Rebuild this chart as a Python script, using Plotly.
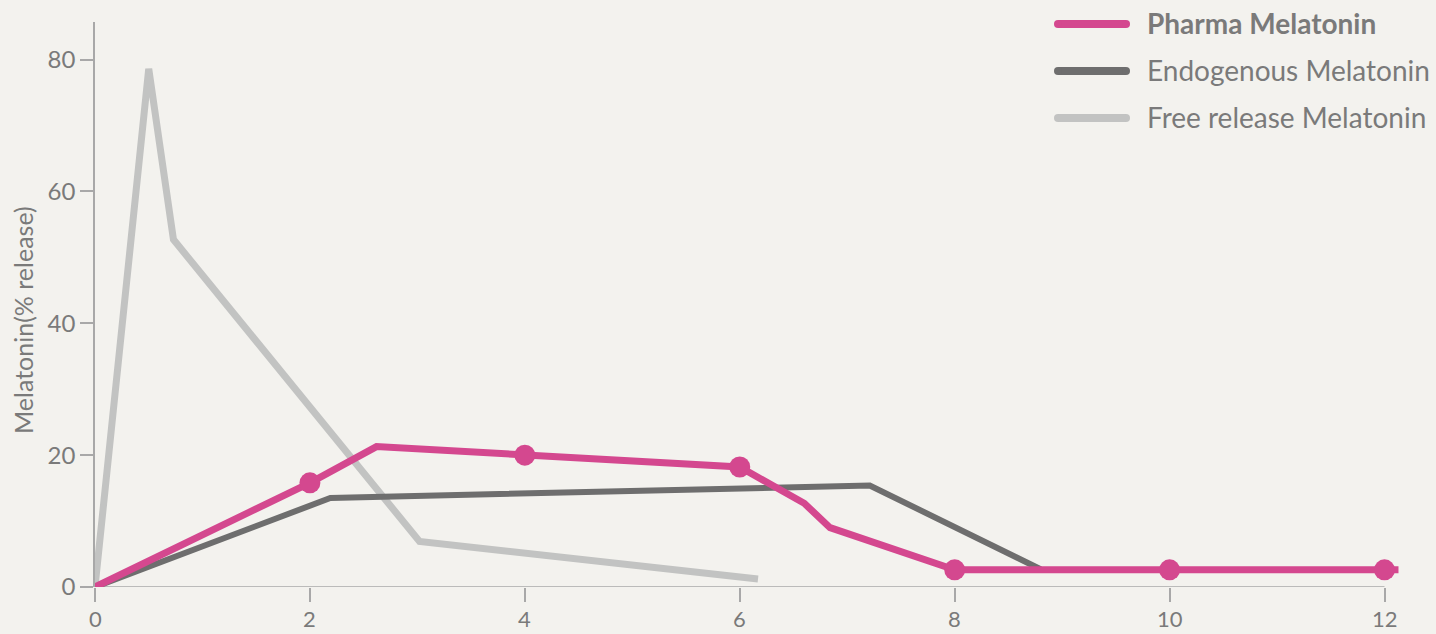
import plotly.graph_objects as go

# Pharma Melatonin (line vertices) and its dot markers
pharma_x = [0, 2, 2.62, 4, 6, 6.6, 6.84, 8, 10, 12, 12.13]
pharma_y = [0, 15.8, 21.3, 20.0, 18.2, 12.7, 9.0, 2.6, 2.6, 2.6, 2.6]
pharma_mx = [2, 4, 6, 8, 10, 12]
pharma_my = [15.8, 20.0, 18.2, 2.6, 2.6, 2.6]

# Endogenous Melatonin
endo_x = [0, 2.19, 7.21, 8.8]
endo_y = [0, 13.5, 15.4, 2.7]

# Free release Melatonin
free_x = [0, 0.5, 0.73, 3.02, 6.17]
free_y = [0, 78.6, 52.7, 6.9, 1.2]

x_ticks = [0, 2, 4, 6, 8, 10, 12]
y_ticks = [0, 20, 40, 60, 80]

series_names = ["Pharma Melatonin", "Endogenous Melatonin", "Free release Melatonin"]
y_title = "Melatonin(% release)"

PINK = "#d4488f"
DARK = "#6e6e6e"
LIGHT = "#c2c3c2"
BG = "#f3f2ee"
AXIS = "#a8a8a8"
TEXT = "#7a7a7a"
FONT = "Lato, 'Open Sans', sans-serif"

W, H = 1436, 634
L, R, T, B = 95, 30, 22, 47

fig = go.Figure()
fig.add_trace(go.Scatter(x=free_x, y=free_y, mode="lines", name=series_names[2],
                         line=dict(color=LIGHT, width=7), showlegend=False))
fig.add_trace(go.Scatter(x=endo_x, y=endo_y, mode="lines", name=series_names[1],
                         line=dict(color=DARK, width=6), showlegend=False))
fig.add_trace(go.Scatter(x=pharma_x, y=pharma_y, mode="lines", name=series_names[0],
                         line=dict(color=PINK, width=7), showlegend=False))
fig.add_trace(go.Scatter(x=pharma_mx, y=pharma_my, mode="markers", showlegend=False,
                         marker=dict(color=PINK, size=21), cliponaxis=False))

# x-axis baseline only up to the last tick
fig.add_shape(type="line", xref="x", yref="y", x0=0, x1=12, y0=0, y1=0,
              line=dict(color=AXIS, width=1.5), layer="below")

# manual legend (paper coords computed from pixels)
pw, ph = W - L - R, H - T - B
def px(xp):
    return (xp - L) / pw
def py(yp):
    return (H - B - yp) / ph

legend_colors = [PINK, DARK, LIGHT]
legend_y = [24, 71, 118]
for name, col, yy in zip(series_names, legend_colors, legend_y):
    fig.add_shape(type="line", xref="paper", yref="paper",
                  x0=px(1058), x1=px(1126), y0=py(yy), y1=py(yy),
                  line=dict(color=col, width=8))
    for xe in (1058, 1126):
        fig.add_shape(type="circle", xref="paper", yref="paper",
                      xsizemode="pixel", ysizemode="pixel",
                      xanchor=px(xe), yanchor=py(yy),
                      x0=-4, x1=4, y0=-4, y1=4,
                      fillcolor=col, line=dict(width=0))
    label = f"<b>{name}</b>" if name == series_names[0] else name
    fig.add_annotation(xref="paper", yref="paper", x=px(1145), y=py(yy - 1),
                       xanchor="left", yanchor="middle", showarrow=False,
                       text=label, font=dict(size=28, color=TEXT, family=FONT))

# y-axis title as rotated annotation
fig.add_annotation(xref="paper", yref="paper", x=px(23), y=py(320),
                   xanchor="center", yanchor="middle", showarrow=False, textangle=-90,
                   text=y_title, font=dict(size=25, color=TEXT, family=FONT))

# x tick labels as annotations (positioned at tick values)
for v in x_ticks:
    fig.add_annotation(xref="x", yref="paper", x=v, y=py(618),
                       xanchor="center", yanchor="middle", showarrow=False,
                       text=str(v), font=dict(size=22, color=TEXT, family=FONT))

fig.update_layout(
    width=W, height=H,
    paper_bgcolor=BG, plot_bgcolor=BG,
    margin=dict(l=L, r=R, t=T, b=B, autoexpand=False),
    font=dict(family=FONT, color=TEXT),
    showlegend=False,
    xaxis=dict(range=[0, 12.2], tickvals=x_ticks, showticklabels=False,
               showgrid=False, zeroline=False, showline=False, automargin=False,
               ticks="outside", ticklen=14, tickcolor=AXIS, tickwidth=1.5),
    yaxis=dict(range=[0, 85.7], tickvals=y_ticks, showgrid=False, zeroline=False,
               showline=True, linecolor=AXIS, linewidth=1.5, automargin=False,
               ticks="outside", ticklen=13, tickcolor=AXIS, tickwidth=1.5,
               tickfont=dict(size=24, color=TEXT)),
)

fig.write_html("out.html", config={"displayModeBar": False})

# remove default page margin so the figure sits at the window origin
with open("out.html", "r", encoding="utf-8") as f:
    html = f.read()
html = html.replace("<body>", '<body style="margin:0;padding:0;overflow:hidden;background:%s">' % BG, 1)
with open("out.html", "w", encoding="utf-8") as f:
    f.write(html)
